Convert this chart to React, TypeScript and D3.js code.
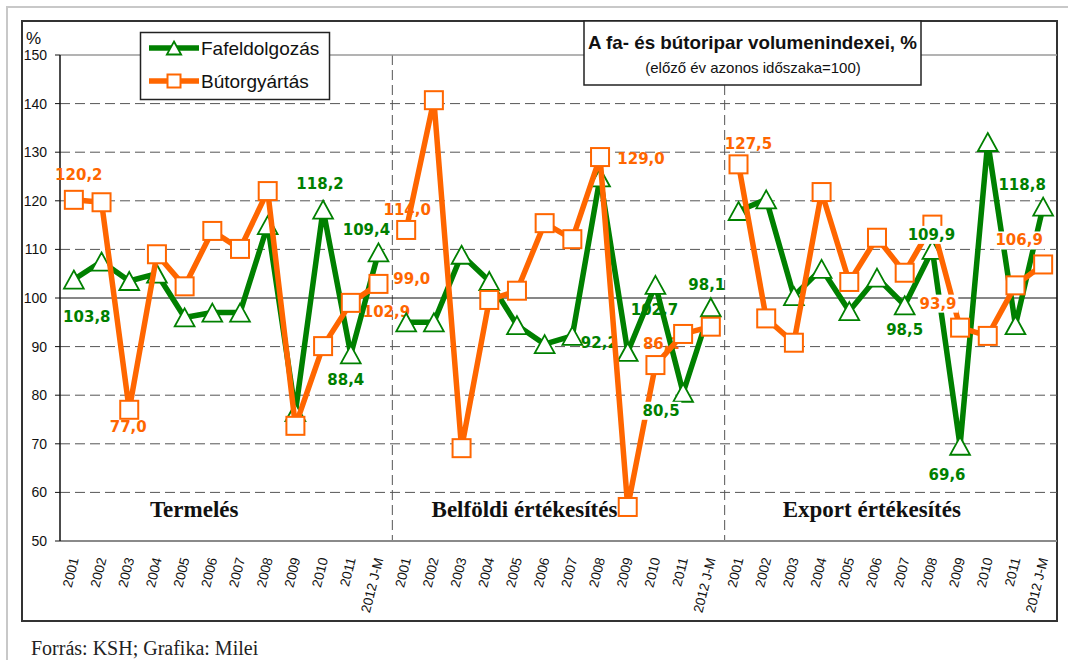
import React from 'react';
import * as d3 from 'd3';

const categories = ['2001', '2002', '2003', '2004', '2005', '2006', '2007', '2008', '2009', '2010', '2011', '2012 J-M'];
const groupNames = ['Termelés', 'Belföldi értékesítés', 'Export értékesítés'];
const seriesNames = ['Fafeldolgozás', 'Bútorgyártás'];

const fafTermeles = [103.8, 107.5, 103.5, 105.0, 96.0, 97.0, 97.0, 115.0, 76.5, 118.2, 88.4, 109.4];
const butTermeles = [120.2, 119.7, 77.0, 109.0, 102.4, 113.8, 110.1, 122.0, 73.7, 90.1, 99.0, 102.9];
const fafBelfold = [95.0, 95.0, 108.9, 103.5, 94.4, 90.5, 92.2, 124.8, 88.9, 102.7, 80.5, 98.1];
const butBelfold = [114.0, 140.7, 69.1, 99.6, 101.5, 115.4, 112.1, 129.0, 57.0, 86.2, 92.6, 94.1];
const fafExport = [117.9, 120.3, 100.4, 106.0, 97.3, 104.2, 98.5, 109.9, 69.6, 132.1, 94.4, 118.8];
const butExport = [127.5, 95.8, 90.8, 121.8, 103.3, 112.4, 105.2, 115.1, 93.9, 92.2, 102.6, 106.9];

const yTicks = [50, 60, 70, 80, 90, 100, 110, 120, 130, 140, 150];

const title = 'A fa- és bútoripar volumenindexei, %';
const subtitle = '(előző év azonos időszaka=100)';
const source = 'Forrás: KSH; Grafika: Milei';

// labelled points: series (0 = Fafeldolgozás, 1 = Bútorgyártás), group, index within group
const labelSeries = [1, 0, 1, 0, 0, 0, 1, 1, 1, 1, 0, 0, 1, 0, 0, 1, 0, 0, 1, 0, 0, 1];
const labelGroup = [0, 0, 0, 0, 0, 0, 0, 0, 1, 1, 1, 1, 1, 1, 1, 2, 2, 2, 2, 2, 2, 2];
const labelIndex = [0, 0, 2, 9, 10, 11, 10, 11, 0, 7, 6, 9, 9, 10, 11, 0, 7, 6, 8, 8, 11, 11];
const labelDx = [5, 13, -1, -3, -5, -12, 61, 8, 1, 41, 27, -1, 6, -22, -4, 10, -1, 0, -22, -13, -21, -24];
const labelDy = [-20, 42, 22, -21, 31, -17, -19, 33, -15, 7, 12, 30, -16, 23, -17, -15, -10, 30, -19, 34, -17, -19];
const labelOnTop = [0, 0, 0, 0, 0, 0, 0, 0, 0, 0, 0, 0, 0, 1, 0, 0, 1, 0, 1, 0, 0, 1];

const W = 1068;
const H = 660;
const L = 60;
const R = 1057;
const T = 55;
const B = 541;

const GREEN = '#008000';
const ORANGE = '#FF6600';
const SANS = '"Liberation Sans", Arial, sans-serif';
const SERIF = '"Liberation Serif", "Times New Roman", serif';
const LABEL_FONT = '"DejaVu Sans", Verdana, sans-serif';

const fafGroups = [fafTermeles, fafBelfold, fafExport];
const butGroups = [butTermeles, butBelfold, butExport];
const seriesGroups = [fafGroups, butGroups];
const seriesColors = [GREEN, ORANGE];

const nCat = categories.length;
const total = nCat * groupNames.length;

const x = d3.scaleBand<number>().domain(d3.range(total)).range([L, R]);
const cx = (i: number) => (x(i) as number) + x.bandwidth() / 2;
const y = d3.scaleLinear().domain([50, 150]).range([B, T]);

const fmt = (v: number) => d3.format('.1f')(v).replace('.', ',');

const triPath = (px: number, py: number, s: number) =>
  `M${px},${py - s}L${px + s * 1.1},${py + s}L${px - s * 1.1},${py + s}Z`;

function Marker({ kind, px, py, s }: { kind: number; px: number; py: number; s: number }) {
  if (kind === 0) {
    return <path d={triPath(px, py, s)} fill="#fff" stroke={GREEN} strokeWidth={1.8} />;
  }
  return <rect x={px - s} y={py - s} width={2 * s} height={2 * s} fill="#fff" stroke={ORANGE} strokeWidth={2} />;
}

export default function App() {
  const line = d3
    .line<[number, number]>()
    .x((d) => d[0])
    .y((d) => d[1]);

  const pts = (s: number, g: number): [number, number][] =>
    seriesGroups[s][g].map((v, i) => [cx(g * nCat + i), y(v)] as [number, number]);

  const labels = labelSeries.map((s, k) => {
    const g = labelGroup[k];
    const i = labelIndex[k];
    const v = seriesGroups[s][g][i];
    return {
      s,
      text: fmt(v),
      x: cx(g * nCat + i) + labelDx[k],
      y: y(v) + labelDy[k],
      top: labelOnTop[k] === 1,
    };
  });

  const groupW = (R - L) / groupNames.length;
  const groupLabelShift = [-32, -34, -19];

  const renderLabel = (lb: any, key: number) => {
    const w = lb.text.length * 9.6 + 2;
    return (
      <g key={key}>
        {lb.top && <rect x={lb.x - w / 2} y={lb.y - 14} width={w} height={18} fill="#fff" />}
        <text
          x={lb.x}
          y={lb.y}
          textAnchor="middle"
          fontFamily={LABEL_FONT}
          fontWeight="bold"
          fontSize={15}
          fill={seriesColors[lb.s]}
        >
          {lb.text}
        </text>
      </g>
    );
  };

  return (
    <svg
      width={W}
      height={H}
      viewBox={`0 0 ${W} ${H}`}
      style={{ position: 'absolute', left: 0, top: 0, background: '#fff' }}
    >
      <rect x={0} y={0} width={W} height={H} fill="#fff" />
      {/* page frame */}
      <rect x={7} y={7} width={W + 20} height={H + 20} fill="none" stroke="#c8c8c8" strokeWidth={2} />
      {/* chart border */}
      <rect x={22} y={21} width={1035} height={600} fill="#fff" stroke="#333" strokeWidth={2} />

      {/* gridlines */}
      {yTicks
        .filter((t) => t !== 50 && t !== 150 && t !== 100)
        .map((t) => (
          <line key={t} x1={L} x2={R} y1={y(t)} y2={y(t)} stroke="#555" strokeWidth={1} strokeDasharray="10,5" />
        ))}
      {/* group separators */}
      {[1, 2].map((g) => (
        <line
          key={g}
          x1={L + g * groupW}
          x2={L + g * groupW}
          y1={T}
          y2={B}
          stroke="#555"
          strokeWidth={1}
          strokeDasharray="10,5"
        />
      ))}
      {/* plot border top, bottom axis */}
      <line x1={L} x2={R} y1={T} y2={T} stroke="#9a9a9a" strokeWidth={1.5} />
      <line x1={L} x2={R} y1={B} y2={B} stroke="#8a8a8a" strokeWidth={2} />
      <line x1={L} x2={R} y1={y(100)} y2={y(100)} stroke="#111" strokeWidth={1.2} />
      {/* y axis */}
      <line x1={L} x2={L} y1={T} y2={B} stroke="#111" strokeWidth={1.5} />
      {yTicks.map((t) => (
        <g key={t}>
          <line x1={L - 5} x2={L} y1={y(t)} y2={y(t)} stroke="#111" strokeWidth={1} />
          <text x={47} y={y(t) + 5} textAnchor="end" fontFamily={SANS} fontSize={14} fill="#111">
            {t}
          </text>
        </g>
      ))}
      <text x={26} y={44} fontFamily={SANS} fontSize={17} fill="#111">
        %
      </text>

      {/* x labels */}
      {d3.range(total).map((i) => (
        <text
          key={i}
          transform={`translate(${cx(i) + 5},559) rotate(-76)`}
          textAnchor="end"
          fontFamily={SANS}
          fontSize={13.5}
          fill="#111"
        >
          {categories[i % nCat]}
        </text>
      ))}

      {/* group names */}
      {groupNames.map((g, k) => (
        <text
          key={g}
          x={L + groupW * (k + 0.5) + groupLabelShift[k]}
          y={517}
          textAnchor="middle"
          fontFamily={SERIF}
          fontWeight="bold"
          fontSize={23}
          fill="#111"
        >
          {g}
        </text>
      ))}

      {/* data labels (under lines) */}
      {labels.filter((lb) => !lb.top).map((lb, k) => renderLabel(lb, k))}

      {/* series */}
      {[0, 1].map((s) => (
        <g key={s}>
          {[0, 1, 2].map((g) => (
            <path
              key={g}
              d={line(pts(s, g)) as string}
              fill="none"
              stroke={seriesColors[s]}
              strokeWidth={5.5}
              strokeLinejoin="round"
            />
          ))}
          {[0, 1, 2].map((g) =>
            pts(s, g).map((p, i) => <Marker key={`${g}-${i}`} kind={s} px={p[0]} py={p[1]} s={9} />)
          )}
        </g>
      ))}

      {/* data labels on top */}
      {labels.filter((lb) => lb.top).map((lb, k) => renderLabel(lb, 100 + k))}

      {/* legend */}
      <rect x={140.5} y={32.5} width={189} height={67} fill="#fff" stroke="#222" strokeWidth={1.5} />
      {[0, 1].map((s) => {
        const ly = s === 0 ? 48 : 81;
        return (
          <g key={s}>
            <line x1={149} x2={199} y1={ly} y2={ly} stroke={seriesColors[s]} strokeWidth={5.5} />
            <Marker kind={s} px={174} py={ly} s={6.5} />
            <text x={201} y={ly + 7} fontFamily={SANS} fontSize={19} fill="#111">
              {seriesNames[s]}
            </text>
          </g>
        );
      })}

      {/* title box */}
      <rect x={584} y={21} width={337} height={64} fill="#fff" stroke="#222" strokeWidth={1.5} />
      <text
        x={752.5}
        y={49}
        textAnchor="middle"
        fontFamily={SANS}
        fontWeight="bold"
        fontSize={19}
        fill="#111"
        textLength={329}
        lengthAdjust="spacingAndGlyphs"
      >
        {title}
      </text>
      <text x={753} y={73} textAnchor="middle" fontFamily={SANS} fontSize={15} fill="#111">
        {subtitle}
      </text>

      {/* source */}
      <text x={31} y={655} fontFamily={SERIF} fontSize={20} fill="#222">
        {source}
      </text>
    </svg>
  );
}
